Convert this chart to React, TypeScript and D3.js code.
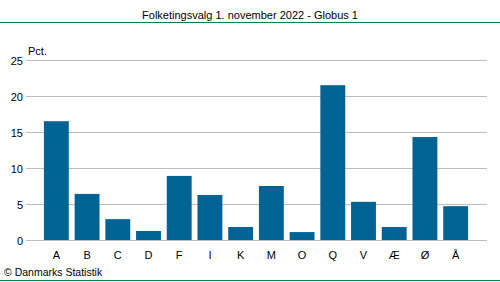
import React from "react";
import * as d3 from "d3";

const categories = ["A", "B", "C", "D", "F", "I", "K", "M", "O", "Q", "V", "Æ", "Ø", "Å"];
const values = [16.5, 6.4, 2.9, 1.25, 8.9, 6.25, 1.8, 7.5, 1.1, 21.5, 5.3, 1.8, 14.3, 4.7];
const yTicks = [0, 5, 10, 15, 20, 25];

const W = 500;
const H = 282;
const font = "'Liberation Sans', Arial, sans-serif";

export default function App() {
  const x = d3.scaleBand<string>().domain(categories).range([41, 471]).paddingInner(0.19).paddingOuter(0.095);
  const y = d3.scaleLinear().domain([0, 25]).range([240, 60]);
  return (
    <svg width={W} height={H} style={{ position: "absolute", left: 0, top: 0 }}>
      <rect x={0} y={0} width={W} height={H} fill="#fff" />
      <text x={250} y={19} textAnchor="middle" fontFamily={font} fontSize={11} fill="#000">
        Folketingsvalg 1. november 2022 - Globus 1
      </text>
      <line x1={0} x2={W} y1={22.5} y2={22.5} stroke="#00813F" strokeWidth={1.2} />
      {yTicks.map((t) => (
        <g key={t}>
          <line x1={26} x2={487} y1={Math.round(y(t)) + 0.5} y2={Math.round(y(t)) + 0.5} stroke="#BCBCC6" strokeWidth={1.2} />
          <text x={23} y={y(t) + 4.5} textAnchor="end" fontFamily={font} fontSize={11} fill="#000">
            {t}
          </text>
        </g>
      ))}
      <text x={28} y={55} fontFamily={font} fontSize={11} fill="#000">
        Pct.
      </text>
      {categories.map((c, i) => (
        <rect key={c} x={x(c)} y={y(values[i])} width={x.bandwidth()} height={y(0) - y(values[i])} fill="#006394" />
      ))}
      {categories.map((c) => (
        <text key={c} x={(x(c) as number) + x.bandwidth() / 2} y={259} textAnchor="middle" fontFamily={font} fontSize={11} fill="#000">
          {c}
        </text>
      ))}
      <text x={4} y={276} fontFamily={font} fontSize={10.5} fill="#000">
        © Danmarks Statistik
      </text>
      <line x1={0} x2={W} y1={280.5} y2={280.5} stroke="#00813F" strokeWidth={1.2} />
    </svg>
  );
}
